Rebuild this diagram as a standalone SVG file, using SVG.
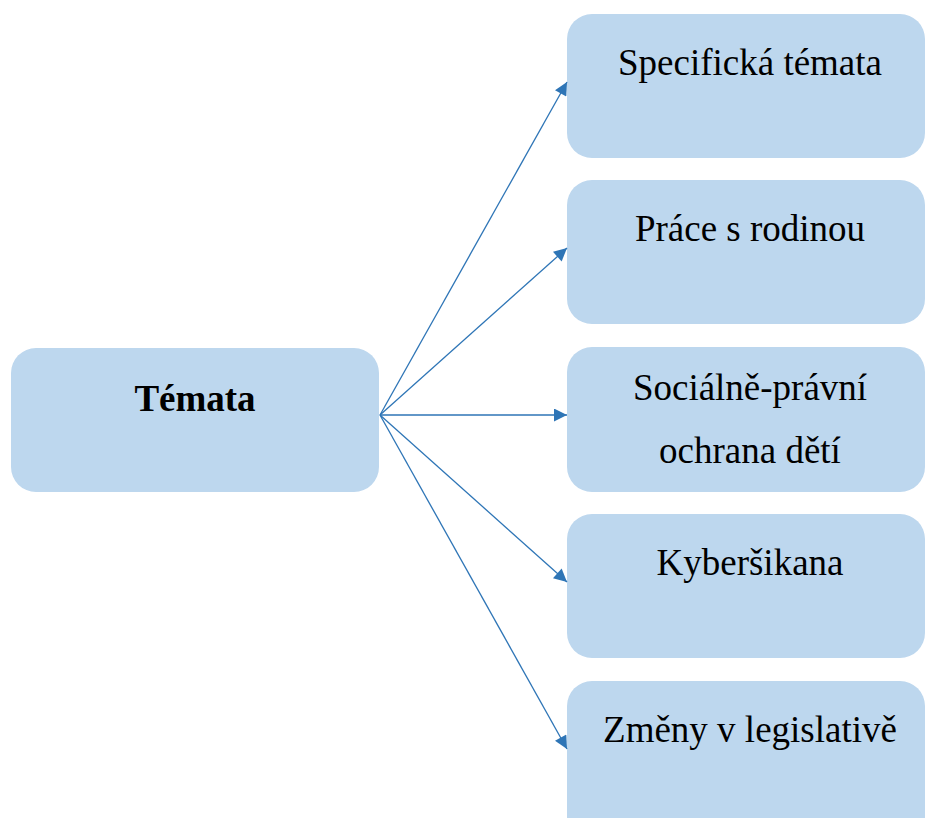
<svg xmlns="http://www.w3.org/2000/svg" width="926" height="818" viewBox="0 0 926 818">
<style>
.box{fill:#bdd7ee;}
.t{font-family:"Liberation Serif","Times New Roman",serif;font-size:37px;fill:#000;text-anchor:middle;}
.b{font-weight:bold;}
.c{stroke:#2e75b6;stroke-width:1.3;fill:none;}
</style>
<defs>
<marker id="ah" viewBox="0 0 10 10" refX="10" refY="5" markerWidth="15" markerHeight="13" markerUnits="userSpaceOnUse" orient="auto">
<path d="M0,0 L10,5 L0,10 z" fill="#2e75b6"/>
</marker>
</defs>
<rect width="926" height="818" fill="#fff"/>
<g id="n0"><rect class="box" x="11" y="348" width="368" height="144" rx="25"/><text class="t b" x="195" y="411">Témata</text></g>
<g id="n1"><rect class="box" x="567" y="14" width="358" height="144" rx="25"/><text class="t" x="750" y="75">Specifická témata</text></g>
<g id="n2"><rect class="box" x="567" y="180" width="358" height="144" rx="25"/><text class="t" x="750" y="241">Práce s rodinou</text></g>
<g id="n3"><rect class="box" x="567" y="347" width="358" height="145" rx="25"/><text class="t" x="750" y="400">Sociálně-právní</text><text class="t" x="750" y="463">ochrana dětí</text></g>
<g id="n4"><rect class="box" x="567" y="514" width="358" height="144" rx="25"/><text class="t" x="750" y="575">Kyberšikana</text></g>
<g id="n5"><rect class="box" x="567" y="681" width="358" height="160" rx="25"/><text class="t" x="750" y="742">Změny v legislativě</text></g>
<g id="connectors">
<line class="c" x1="380" y1="415" x2="567" y2="82" marker-end="url(#ah)"/>
<line class="c" x1="380" y1="415" x2="567" y2="248" marker-end="url(#ah)"/>
<line class="c" x1="380" y1="415" x2="567" y2="415" marker-end="url(#ah)"/>
<line class="c" x1="380" y1="415" x2="567" y2="582" marker-end="url(#ah)"/>
<line class="c" x1="380" y1="415" x2="567" y2="749" marker-end="url(#ah)"/>
</g>
</svg>
